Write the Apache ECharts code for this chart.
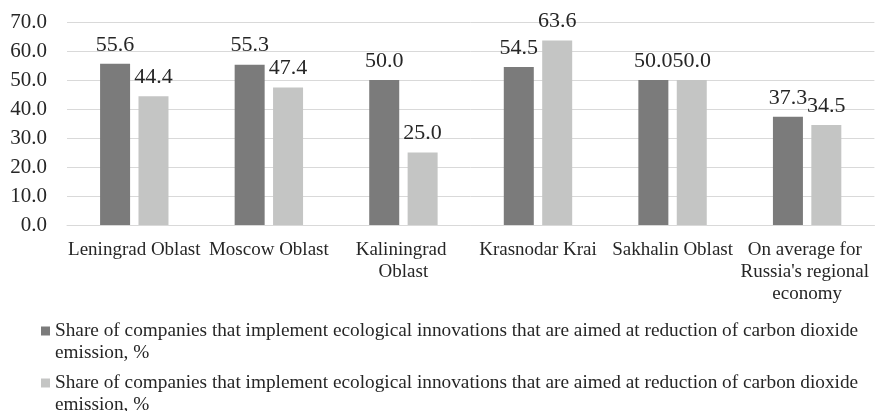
<!DOCTYPE html>
<html>
<head>
<meta charset="utf-8">
<script src="https://cdn.jsdelivr.net/npm/echarts@6/dist/echarts.min.js"></script>
<style>
  html, body { margin: 0; padding: 0; background: #fff; }
  #chart { width: 877px; height: 411px; }
</style>
</head>
<body>
<div id="chart"></div>
<script>
// data
var regions = ['Leningrad Oblast', 'Moscow Oblast', 'Kaliningrad Oblast', 'Krasnodar Krai', 'Sakhalin Oblast', "On average for Russia's regional economy"]
var shareFirst = [55.6, 55.3, 50.0, 54.5, 50.0, 37.3]
var shareSecond = [44.4, 47.4, 25.0, 63.6, 50.0, 34.5]
var legendText = [
    'Share of companies that implement ecological innovations that are aimed at reduction of carbon dioxide\nemission, %',
    'Share of companies that implement ecological innovations that are aimed at reduction of carbon dioxide\nemission, %'
]
var yTicks = { min: 0, max: 70, interval: 10 }

var font = 'Liberation Serif, Times New Roman, serif'
var txtColor = '#262626'
var chart = echarts.init(document.getElementById('chart'))

// one legend per series, both series share the same caption in the original
function legendFor(key, text, top) {
    return {
        orient: 'vertical',
        left: 36,
        top: top,
        itemWidth: 9,
        itemHeight: 9,
        icon: 'rect',
        data: [key],
        // blank first line so the square sits beside the first real line
        formatter: function () { return ' \n' + text },
        textStyle: { fontFamily: font, fontSize: 19.3, color: txtColor, lineHeight: 22 }
    }
}

var valueLabel = {
    show: true, position: 'top', distance: 8,
    fontFamily: font, fontSize: 22, color: txtColor,
    formatter: function (p) { return p.value.toFixed(1) }
}

chart.setOption({
    animation: false,
    textStyle: { fontFamily: font },
    grid: { left: 67, right: 1, top: 22, bottom: 186, containLabel: false },
    legend: [
        legendFor('s1', legendText[0], 293),
        legendFor('s2', legendText[1], 345)
    ],
    xAxis: {
        type: 'category',
        data: regions,
        axisLine: { show: true, lineStyle: { color: '#d9d9d9' } },
        axisTick: { show: false },
        axisLabel: {
            interval: 0,
            margin: 14,
            fontFamily: font,
            fontSize: 19,
            color: txtColor,
            lineHeight: 22,
            width: 134,
            overflow: 'break',
            align: 'center'
        }
    },
    yAxis: {
        type: 'value',
        min: yTicks.min,
        max: yTicks.max,
        interval: yTicks.interval,
        axisLine: { show: false },
        axisTick: { show: false },
        splitLine: { lineStyle: { color: '#d9d9d9', width: 1 } },
        axisLabel: {
            margin: 20,
            fontFamily: font,
            fontSize: 21,
            color: txtColor,
            formatter: function (v) { return v.toFixed(1) }
        }
    },
    series: [
        {
            name: 's1',
            type: 'bar',
            data: shareFirst,
            barWidth: 30,
            barGap: '28%',
            itemStyle: { color: '#7b7b7b' },
            label: valueLabel
        },
        {
            name: 's2',
            type: 'bar',
            data: shareSecond,
            barWidth: 30,
            itemStyle: { color: '#c4c5c4' },
            label: valueLabel
        }
    ]
})
</script>
</body>
</html>
